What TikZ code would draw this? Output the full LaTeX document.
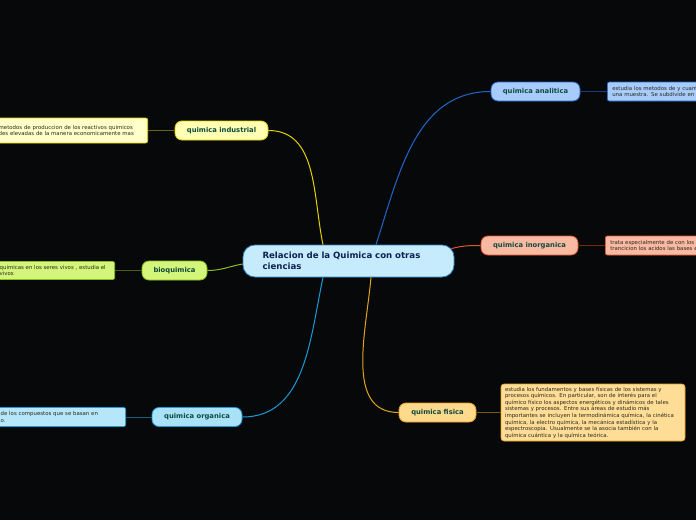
\documentclass[tikz,border=0pt]{standalone}
\usepackage{fontspec}
\setmainfont{DejaVu Sans}
\usetikzlibrary{positioning}

\definecolor{bgcol}{HTML}{06080A}
\definecolor{maintext}{HTML}{0E2150}
\definecolor{topictext}{HTML}{0F4A3C}
\definecolor{notetext}{HTML}{2A2A1A}
% branch colours
\definecolor{indfill}{HTML}{FFFFB3}\definecolor{indline}{HTML}{E6D000}\definecolor{indleaf}{HTML}{6B6510}
\definecolor{biofill}{HTML}{D2F57A}\definecolor{bioline}{HTML}{8BBE1C}\definecolor{bioleaf}{HTML}{4D5F12}
\definecolor{orgfill}{HTML}{A9E1F8}\definecolor{orgline}{HTML}{1B9AD6}\definecolor{orgleaf}{HTML}{1A5C7A}
\definecolor{anafill}{HTML}{A7CBFB}\definecolor{analine}{HTML}{2366CC}\definecolor{analeaf}{HTML}{1E3F73}
\definecolor{inofill}{HTML}{F9B9A3}\definecolor{inoline}{HTML}{E4572A}\definecolor{inoleaf}{HTML}{7A2812}
\definecolor{fisfill}{HTML}{FFD98C}\definecolor{fisline}{HTML}{E5A31E}\definecolor{fisleaf}{HTML}{7A5A10}
\definecolor{mainfill}{HTML}{C5EBFC}\definecolor{mainline}{HTML}{2E86C8}

\begin{document}
\begin{tikzpicture}[x=1pt,y=-1pt,
    topic/.style={draw, line width=0.8pt, rounded corners=7pt, minimum height=19pt,
      inner xsep=0pt, font=\fontsize{6.8}{8}\selectfont\bfseries, text=topictext},
    note/.style={draw, line width=0.6pt, rounded corners=2pt, inner xsep=5pt, inner ysep=2pt,
      align=left, font=\fontsize{5.4}{6.6}\selectfont, text=notetext},
    link/.style={line width=1pt},
    leaf/.style={line width=0.6pt}]

% Background
\fill[bgcol] (0,0) rectangle (696,520);
\useasboundingbox (0,0) rectangle (696,520);

% Central topic
\node[draw=mainline, fill=mainfill, line width=0.8pt, rounded corners=12pt,
  minimum width=211pt, minimum height=32pt, inner xsep=0pt,
  text width=172pt, align=left, text=maintext,
  font=\fontsize{8.6}{10.5}\selectfont\bfseries] (main) at (348.5,261)
  {Relacion de la Quimica con otras\\ciencias};

\coordinate (main-ind) at ([xshift=-25.5pt]main.north);
\coordinate (main-ana) at ([xshift=27.5pt]main.north);
\coordinate (main-org) at ([xshift=-25.5pt]main.south);
\coordinate (main-fis) at ([xshift=22.5pt]main.south);
\coordinate (main-ino) at ([xshift=-3pt,yshift=-4pt]main.north east);
\coordinate (main-bio) at ([yshift=-3pt]main.west);

% Topics
\node[topic, fill=indfill, draw=indline, minimum width=93pt] (ind) at (221.5,130.5) {quimica industrial};
\node[topic, fill=biofill, draw=bioline, minimum width=65pt] (bio) at (174.5,270.5) {bioquimica};
\node[topic, fill=orgfill, draw=orgline, minimum width=90pt] (org) at (197,417) {quimica organica};
\node[topic, fill=anafill, draw=analine, minimum width=89pt] (ana) at (535.5,91.5) {quimica analitica};
\node[topic, fill=inofill, draw=inoline, minimum width=97pt] (ino) at (529.5,245.5) {quimica inorganica};
\node[topic, fill=fisfill, draw=fisline, minimum width=77pt] (fis) at (437.5,412.5) {quimica fisica};

% Notes
\node[note, fill=indfill!70!white, draw=indline, text width=144pt, minimum height=25pt, anchor=east]
  (ind-note) at (148,130.5) {metodos de produccion de los reactivos quimicos\\des elevadas de la manera economicamente mas};
\node[note, fill=biofill, draw=bioline, text width=110pt, minimum height=18pt, anchor=east]
  (bio-note) at (115,270.5) {quimicas en los seres vivos , estudia el\\vivos};
\node[note, fill=orgfill!85!white, draw=orgline, text width=120pt, minimum height=19pt, anchor=east]
  (org-note) at (126,417) {de los compuestos que se basan en\\o.};
\node[note, fill=anafill, draw=analine, text width=100pt, minimum height=19pt, anchor=west]
  (ana-note) at (607,91.5) {estudia los metodos de y cuant\\una muestra. Se subdivide en};
\node[note, fill=inofill, draw=inoline, text width=100pt, minimum height=19pt, anchor=west]
  (ino-note) at (605,245.5) {trata especialmente de con los\\trancicion los acidos las bases e};
\node[note, fill=fisfill!90!white, draw=fisline, rounded corners=3pt, text width=176pt, minimum height=57pt, inner xsep=4pt]
  (fis-note) at (593,412.5) {estudia los fundamentos y bases físicas de los sistemas y\\
  procesos químicos. En particular, son de interés para el\\
  químico físico los aspectos energéticos y dinámicos de tales\\
  sistemas y procesos. Entre sus áreas de estudio más\\
  importantes se incluyen la termodinámica química, la cinética\\
  química, la electro química, la mecánica estadística y la\\
  espectroscopia. Usualmente se la asocia también con la\\
  química cuántica y la química teórica.};

% Branches
\draw[link, indline] (ind.east) to[out=0, in=102] (main-ind);
\draw[link, bioline] (bio.east) to[out=0, in=190] (main-bio);
\draw[link, orgline] (org.east) to[out=0, in=-102] (main-org);
\draw[link, analine] (ana.west) to[out=180, in=72] (main-ana);
\draw[link, inoline] (ino.west) to[out=180, in=15] (main-ino);
\draw[link, fisline] (main-fis) to[out=-95, in=180] (fis.west);

% Leaves
\draw[leaf, indleaf] (ind.west) -- (ind-note.east);
\draw[leaf, bioleaf] (bio.west) -- (bio-note.east);
\draw[leaf, orgleaf] (org.west) -- (org-note.east);
\draw[leaf, analeaf] (ana.east) -- (ana-note.west);
\draw[leaf, inoleaf] (ino.east) -- (ino-note.west);
\draw[leaf, fisleaf] (fis.east) -- (fis-note.west);

\end{tikzpicture}
\end{document}
